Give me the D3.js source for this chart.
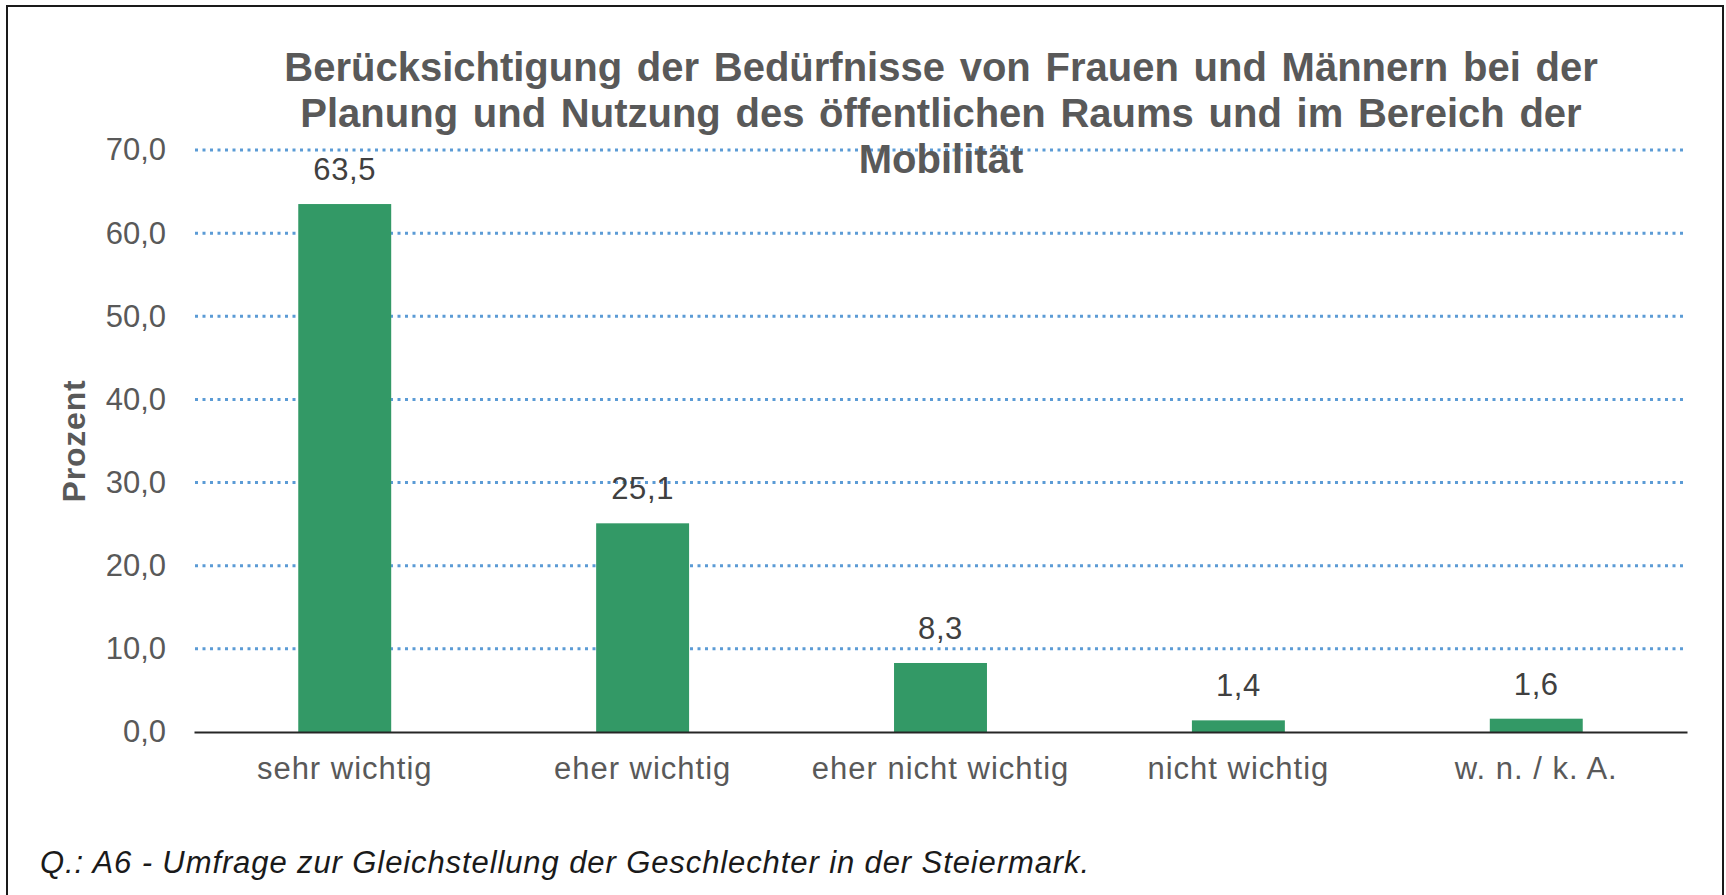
<!DOCTYPE html>
<html lang="de">
<head>
<meta charset="utf-8">
<script src="https://cdn.jsdelivr.net/npm/d3@7"></script>
<style>
  html, body { margin: 0; padding: 0; background: #fff; }
  svg { display: block; font-family: "Liberation Sans", Arial, sans-serif; }
</style>
</head>
<body>
<div id="chart"></div>
<script>
// Antworten auf die Frage nach der Berücksichtigung der Bedürfnisse (in Prozent)
const categories = ["sehr wichtig", "eher wichtig", "eher nicht wichtig", "nicht wichtig", "w. n. / k. A."];
const values = [63.5, 25.1, 8.3, 1.4, 1.6];
const yTicks = [0, 10, 20, 30, 40, 50, 60, 70];
const titleLines = [
  "Berücksichtigung der Bedürfnisse von Frauen und Männern bei der",
  "Planung und Nutzung des öffentlichen Raums und im Bereich der",
  "Mobilität"
];
const yAxisTitle = "Prozent";
const sourceNote = "Q.: A6 - Umfrage zur Gleichstellung der Geschlechter in der Steiermark.";

const W = 1726, H = 895;
const plot = { left: 194, right: 1687, top: 150, bottom: 732 };
const fmt = v => v.toFixed(1).replace(".", ",");

const svg = d3.select("#chart").append("svg")
  .attr("width", W).attr("height", H);

// Rahmen um die Grafik
svg.append("rect")
  .attr("x", 7).attr("y", 6)
  .attr("width", 1716).attr("height", 940)
  .attr("fill", "none").attr("stroke", "#1a1a1a").attr("stroke-width", 2);

const x = d3.scaleBand()
  .domain(categories)
  .range([plot.left, plot.right])
  .paddingInner(0.688)
  .paddingOuter(0.35);

const y = d3.scaleLinear()
  .domain([0, 70])
  .range([plot.bottom, plot.top]);

// Gepunktete Hilfslinien
svg.append("g")
  .selectAll("line")
  .data(yTicks.filter(t => t > 0))
  .join("line")
  .attr("x1", plot.left + 1).attr("x2", plot.right - 2)
  .attr("y1", d => y(d)).attr("y2", d => y(d))
  .attr("stroke", "#5b9bd5")
  .attr("stroke-width", 3)
  .attr("stroke-dasharray", "3 4.5");

// Y-Achse mit Beschriftung
const yAxis = svg.append("g")
  .attr("transform", `translate(${plot.left},0)`)
  .call(d3.axisLeft(y).tickValues(yTicks).tickFormat(fmt).tickSize(0).tickPadding(28));
yAxis.select(".domain").remove();
yAxis.selectAll("text")
  .attr("font-family", "Liberation Sans, Arial, sans-serif")
  .attr("font-size", 31)
  .attr("fill", "#595959");

// Balken
svg.append("g")
  .selectAll("rect")
  .data(values)
  .join("rect")
  .attr("x", (d, i) => x(categories[i]))
  .attr("width", x.bandwidth())
  .attr("y", d => y(d))
  .attr("height", d => y(0) - y(d))
  .attr("fill", "#339966");

// Werte über den Balken
svg.append("g")
  .selectAll("text")
  .data(values)
  .join("text")
  .attr("x", (d, i) => x(categories[i]) + x.bandwidth() / 2)
  .attr("y", d => y(d) - 24)
  .attr("text-anchor", "middle")
  .attr("font-size", 31)
  .attr("letter-spacing", 0.6)
  .attr("fill", "#404040")
  .text(fmt);

// X-Achse (Grundlinie und Kategorien)
const xAxis = svg.append("g")
  .attr("transform", `translate(0,${plot.bottom})`)
  .call(d3.axisBottom(x).tickSize(0).tickPadding(25));
xAxis.select(".domain")
  .attr("stroke", "#262626").attr("stroke-width", 2.2);
xAxis.selectAll("text")
  .attr("font-family", "Liberation Sans, Arial, sans-serif")
  .attr("font-size", 31)
  .attr("letter-spacing", 1)
  .attr("fill", "#595959");

// Achsentitel
svg.append("text")
  .attr("transform", `translate(85,${(plot.top + plot.bottom) / 2}) rotate(-90)`)
  .attr("text-anchor", "middle")
  .attr("font-size", 32)
  .attr("letter-spacing", 0.8)
  .attr("font-weight", "bold")
  .attr("fill", "#595959")
  .text(yAxisTitle);

// Diagrammtitel
svg.append("g")
  .selectAll("text")
  .data(titleLines)
  .join("text")
  .attr("x", 941)
  .attr("y", (d, i) => 81 + i * 46.2)
  .attr("text-anchor", "middle")
  .attr("font-size", 40)
  .attr("word-spacing", 3.6)
  .attr("font-weight", "bold")
  .attr("fill", "#595959")
  .text(d => d);

// Quellenangabe
svg.append("text")
  .attr("x", 40).attr("y", 873)
  .attr("font-size", 31)
  .attr("letter-spacing", 0.9)
  .attr("font-style", "italic")
  .attr("fill", "#1a1a1a")
  .text(sourceNote);
</script>
</body>
</html>
